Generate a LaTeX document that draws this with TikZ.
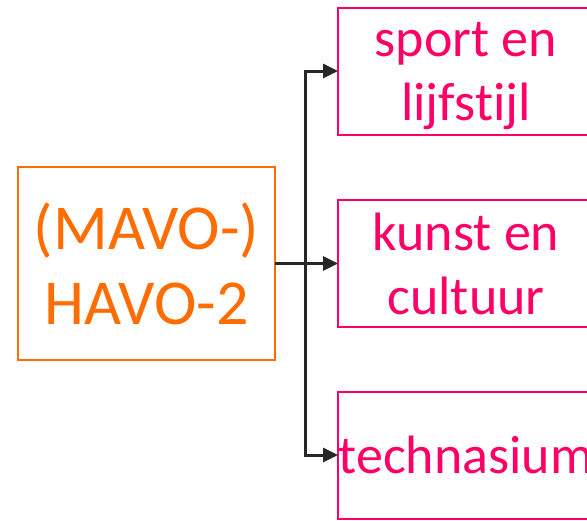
\documentclass[tikz,border=0pt]{standalone}
\usepackage{fontspec}
\setmainfont{Carlito}[Ligatures={NoCommon}]
\usetikzlibrary{arrows.meta}
\definecolor{havo}{RGB}{255,108,0}
\definecolor{profiel}{RGB}{255,0,102}
\begin{document}
\begin{tikzpicture}[x=1pt, y=-1pt,
  every node/.style={inner sep=0pt, outer sep=0pt, align=center, line width=2pt},
  start/.style={draw=havo, text=havo, minimum width=257pt, minimum height=193pt,
    font=\fontsize{64}{75}\selectfont},
  keuze/.style={draw=profiel, text=profiel, minimum width=256pt, minimum height=127pt,
    font=\fontsize{54}{64}\selectfont},
  pijl/.style={line width=3pt, color=black!85, -{Triangle[length=15pt,width=14pt]}}]
\useasboundingbox (0,0) rectangle (587,520);

\node[start] (havo) at (146.5,263.5) {(MAVO-)\\HAVO-2};

\node[keuze, text depth=0pt] (sport) at (466,71) {sport en\\lijfstijl};
\node[keuze] (kunst) at (466,263.5) {kunst en\\cultuur};
\node[keuze] (techn) at (466,455) {technasium};

\coordinate (splits) at (305,263.5);
\draw[line width=3pt, color=black!85] (havo.east) -- (splits);
\draw[pijl] (splits) |- (sport.west);
\draw[pijl] (splits) -- (kunst.west);
\draw[pijl] (splits) |- (techn.west);
\end{tikzpicture}
\end{document}
